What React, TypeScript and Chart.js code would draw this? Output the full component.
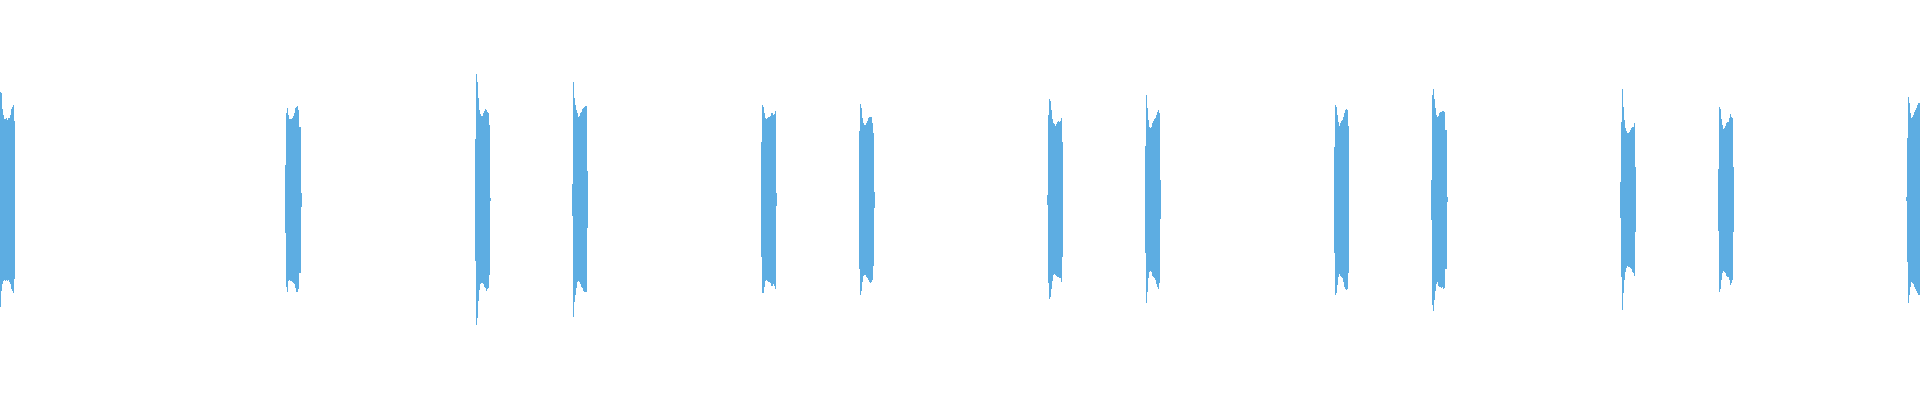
import { useEffect, useRef } from 'react';
import { Chart, BarController, BarElement, LinearScale } from 'chart.js';

Chart.register(BarController, BarElement, LinearScale);

// first pixel column of each burst
const burstStarts = [0, 285, 475, 572, 761, 859, 1047, 1145, 1334, 1431, 1620, 1718, 1906];

// peak above the centre line, one value per column
const burstTops = [
  [108, 107, 91, 85, 81, 81, 82, 80, 82, 82, 85, 91, 93, 95, 79],
  [35, 87, 92, 85, 81, 81, 81, 82, 84, 87, 92, 93, 94, 90, 73, 73, 7],
  [61, 126, 118, 102, 90, 86, 84, 84, 87, 89, 91, 90, 88, 87, 75, 2],
  [16, 118, 102, 95, 90, 87, 83, 84, 87, 88, 91, 92, 93, 94, 94, 29],
  [58, 95, 93, 87, 82, 81, 82, 83, 83, 84, 87, 87, 85, 86, 89, 7],
  [69, 96, 92, 82, 77, 75, 75, 77, 79, 82, 83, 83, 83, 77, 67, 8],
  [5, 85, 101, 99, 90, 81, 77, 76, 74, 76, 78, 79, 78, 79, 82, 58],
  [54, 105, 92, 80, 73, 72, 73, 77, 79, 81, 82, 85, 88, 90, 87, 20],
  [53, 95, 93, 85, 78, 74, 77, 79, 80, 83, 87, 90, 91, 90, 74],
  [20, 105, 111, 101, 92, 85, 83, 84, 87, 88, 88, 89, 89, 88, 70, 70, 3],
  [18, 78, 111, 93, 80, 72, 69, 67, 67, 68, 70, 72, 73, 73, 77, 33],
  [31, 93, 91, 81, 75, 71, 72, 74, 77, 78, 78, 82, 86, 83, 82, 33],
  [3, 62, 103, 97, 87, 82, 83, 85, 88, 90, 92, 95, 97, 97],
];

// trough below the centre line, one value per column
const burstBottoms = [
  [107, 91, 84, 81, 80, 81, 80, 81, 80, 82, 84, 89, 91, 93, 79],
  [33, 87, 92, 81, 80, 81, 81, 82, 83, 84, 88, 92, 92, 89, 73, 73, 7],
  [61, 125, 118, 101, 90, 84, 83, 83, 84, 87, 88, 91, 89, 88, 75, 1],
  [16, 117, 102, 95, 88, 82, 81, 82, 84, 87, 88, 91, 92, 92, 92, 28],
  [57, 93, 93, 87, 81, 80, 81, 82, 82, 83, 86, 86, 84, 86, 89, 6],
  [69, 95, 91, 82, 76, 75, 75, 77, 78, 80, 82, 83, 82, 80, 66, 8],
  [5, 83, 99, 97, 89, 81, 75, 74, 75, 76, 77, 77, 78, 78, 82, 57],
  [53, 103, 92, 78, 72, 71, 72, 76, 77, 78, 80, 84, 87, 89, 83, 19],
  [53, 95, 93, 85, 77, 74, 76, 77, 78, 82, 87, 89, 90, 89, 73],
  [20, 105, 111, 100, 91, 84, 82, 86, 87, 87, 88, 87, 89, 88, 69, 69, 2],
  [18, 77, 110, 93, 80, 72, 68, 66, 67, 67, 68, 69, 72, 73, 76, 32],
  [31, 92, 89, 80, 73, 71, 72, 73, 76, 77, 77, 80, 85, 83, 80, 32],
  [1, 62, 103, 95, 87, 82, 83, 84, 87, 89, 91, 93, 95, 95],
];

const WAVE_COLOR = '#5DADE2';

function buildColumns() {
  const cols: { x: number; y: [number, number] }[] = [];
  burstStarts.forEach((start, b) => {
    burstTops[b].forEach((top, i) => {
      cols.push({ x: start + i, y: [-burstBottoms[b][i], top] });
    });
  });
  return cols;
}

function Waveform() {
  const canvasRef = useRef<HTMLCanvasElement>(null);
  const chartRef = useRef<Chart | null>(null);

  useEffect(() => {
    chartRef.current?.destroy();
    if (!canvasRef.current) return undefined;

    chartRef.current = new Chart(canvasRef.current, {
      type: 'bar',
      data: {
        datasets: [
          {
            data: buildColumns() as any,
            backgroundColor: WAVE_COLOR,
            borderWidth: 0,
            barThickness: 1,
            inflateAmount: 0,
          },
        ],
      },
      options: {
        animation: false,
        responsive: false,
        layout: { padding: 0 },
        plugins: { legend: { display: false }, tooltip: { enabled: false } },
        scales: {
          x: { type: 'linear', min: -0.5, max: 1919.5, offset: false, display: false },
          y: { min: -200, max: 200, display: false },
        },
      },
    });

    return () => {
      chartRef.current?.destroy();
      chartRef.current = null;
    };
  }, []);

  return <canvas ref={canvasRef} width={1920} height={400} style={{ display: 'block' }} />;
}

export default function App() {
  return (
    <div style={{ position: 'absolute', left: 0, top: 0, width: 1920, height: 400, background: '#fff' }}>
      <Waveform />
    </div>
  );
}
